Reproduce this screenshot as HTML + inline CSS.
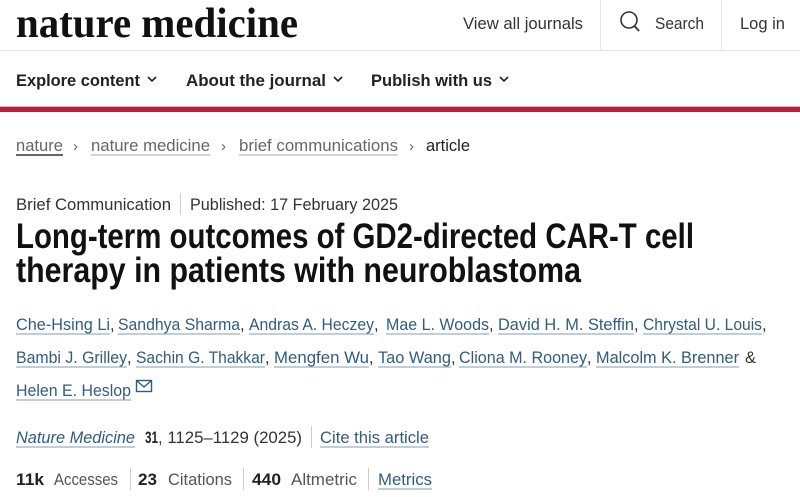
<!DOCTYPE html>
<html><head><meta charset="utf-8"><style>
html,body{margin:0;padding:0;background:#fff;width:800px;height:497px;overflow:hidden}
svg{display:block;font-family:"Liberation Sans",sans-serif}
.l{fill:#2f5d80}
.u{stroke:#7f9cb3;stroke-width:1}
.g{fill:#666}
</style></head><body>
<svg width="800" height="497" viewBox="0 0 800 497" xmlns="http://www.w3.org/2000/svg">
<rect width="800" height="497" fill="#fff"/>
<!-- header -->
<text x="16" y="37" style="font-family:'Liberation Serif',serif;font-weight:bold;font-size:42px" textLength="282" lengthAdjust="spacingAndGlyphs" fill="#111">nature medicine</text>
<line x1="0" y1="50.5" x2="800" y2="50.5" stroke="#e4e4e4"/>
<line x1="600.5" y1="0" x2="600.5" y2="50" stroke="#e4e4e4"/>
<line x1="721.5" y1="0" x2="721.5" y2="50" stroke="#e4e4e4"/>
<text x="463" y="29" font-size="17" textLength="120" lengthAdjust="spacingAndGlyphs" fill="#333">View all journals</text>
<circle cx="629" cy="20" r="8" fill="none" stroke="#333" stroke-width="1.6"/>
<line x1="634.5" y1="26" x2="639" y2="31" stroke="#333" stroke-width="1.8"/>
<text x="655" y="29" font-size="17" textLength="49" lengthAdjust="spacingAndGlyphs" fill="#333">Search</text>
<text x="740" y="29" font-size="17" textLength="45" lengthAdjust="spacingAndGlyphs" fill="#333">Log in</text>
<!-- nav -->
<text x="16" y="86" font-size="17" font-weight="bold" textLength="124" lengthAdjust="spacingAndGlyphs" fill="#222">Explore content</text>
<polyline points="148,77 152,81 156,77" fill="none" stroke="#222" stroke-width="1.6"/>
<text x="186" y="86" font-size="17" font-weight="bold" textLength="140" lengthAdjust="spacingAndGlyphs" fill="#222">About the journal</text>
<polyline points="334,77 338,81 342,77" fill="none" stroke="#222" stroke-width="1.6"/>
<text x="371" y="86" font-size="17" font-weight="bold" textLength="121" lengthAdjust="spacingAndGlyphs" fill="#222">Publish with us</text>
<polyline points="500,77 504,81 508,77" fill="none" stroke="#222" stroke-width="1.6"/>
<rect x="0" y="107" width="800" height="5" fill="#b8213c"/>
<rect x="0" y="106" width="800" height="1" fill="#e7b0ba"/>
<!-- breadcrumb -->
<text x="16" y="151" font-size="17" textLength="47" lengthAdjust="spacingAndGlyphs" class="g">nature</text>
<rect x="16" y="154" width="47" height="2" fill="#666"/>
<text x="73" y="151" font-size="15" class="g">›</text>
<text x="91" y="151" font-size="17" textLength="119" lengthAdjust="spacingAndGlyphs" class="g">nature medicine</text>
<line x1="91" y1="155" x2="210" y2="155" stroke="#aaa"/>
<text x="221" y="151" font-size="15" class="g">›</text>
<text x="239" y="151" font-size="17" textLength="159" lengthAdjust="spacingAndGlyphs" class="g">brief communications</text>
<line x1="239" y1="155" x2="398" y2="155" stroke="#aaa"/>
<text x="409" y="151" font-size="15" class="g">›</text>
<text x="426" y="151" font-size="17" textLength="44" lengthAdjust="spacingAndGlyphs" fill="#222">article</text>
<!-- meta -->
<text x="16" y="210" font-size="16.5" textLength="155" lengthAdjust="spacingAndGlyphs" fill="#333">Brief Communication</text>
<line x1="180.5" y1="193" x2="180.5" y2="215" stroke="#ccc"/>
<text x="190" y="210" font-size="16.5" textLength="208" lengthAdjust="spacingAndGlyphs" fill="#333">Published: 17 February 2025</text>
<!-- title -->
<text x="16" y="248" font-size="35" font-weight="bold" textLength="678" lengthAdjust="spacingAndGlyphs" fill="#111">Long-term outcomes of GD2-directed CAR-T cell</text>
<text x="16" y="282" font-size="35" font-weight="bold" textLength="565" lengthAdjust="spacingAndGlyphs" fill="#111">therapy in patients with neuroblastoma</text>
<!-- authors -->
<g font-size="16.5">
<text x="16" y="330" textLength="94" lengthAdjust="spacingAndGlyphs" class="l">Che-Hsing Li</text><text x="110" y="330" fill="#333">,</text>
<text x="118" y="330" textLength="122" lengthAdjust="spacingAndGlyphs" class="l">Sandhya Sharma</text><text x="240" y="330" fill="#333">,</text>
<text x="249" y="330" textLength="125" lengthAdjust="spacingAndGlyphs" class="l">Andras A. Heczey</text><text x="374" y="330" fill="#333">,</text>
<text x="386" y="330" textLength="103" lengthAdjust="spacingAndGlyphs" class="l">Mae L. Woods</text><text x="489" y="330" fill="#333">,</text>
<text x="498" y="330" textLength="136" lengthAdjust="spacingAndGlyphs" class="l">David H. M. Steffin</text><text x="634" y="330" fill="#333">,</text>
<text x="643" y="330" textLength="119" lengthAdjust="spacingAndGlyphs" class="l">Chrystal U. Louis</text><text x="762" y="330" fill="#333">,</text>
<g class="u">
<line x1="16" y1="334" x2="110" y2="334"/><line x1="118" y1="334" x2="240" y2="334"/><line x1="249" y1="334" x2="374" y2="334"/><line x1="386" y1="334" x2="489" y2="334"/><line x1="498" y1="334" x2="634" y2="334"/><line x1="643" y1="334" x2="762" y2="334"/>
</g>
<text x="16" y="363" textLength="111" lengthAdjust="spacingAndGlyphs" class="l">Bambi J. Grilley</text><text x="127" y="363" fill="#333">,</text>
<text x="136" y="363" textLength="129" lengthAdjust="spacingAndGlyphs" class="l">Sachin G. Thakkar</text><text x="265" y="363" fill="#333">,</text>
<text x="274" y="363" textLength="95" lengthAdjust="spacingAndGlyphs" class="l">Mengfen Wu</text><text x="369" y="363" fill="#333">,</text>
<text x="378" y="363" textLength="73" lengthAdjust="spacingAndGlyphs" class="l">Tao Wang</text><text x="451" y="363" fill="#333">,</text>
<text x="459" y="363" textLength="128" lengthAdjust="spacingAndGlyphs" class="l">Cliona M. Rooney</text><text x="587" y="363" fill="#333">,</text>
<text x="596" y="363" textLength="143" lengthAdjust="spacingAndGlyphs" class="l">Malcolm K. Brenner</text>
<text x="745" y="363" fill="#333">&amp;</text>
<g class="u">
<line x1="16" y1="367" x2="127" y2="367"/><line x1="136" y1="367" x2="265" y2="367"/><line x1="274" y1="367" x2="369" y2="367"/><line x1="378" y1="367" x2="451" y2="367"/><line x1="459" y1="367" x2="587" y2="367"/><line x1="596" y1="367" x2="739" y2="367"/>
</g>
<text x="16" y="396" textLength="115" lengthAdjust="spacingAndGlyphs" class="l">Helen E. Heslop</text>
<line x1="16" y1="400" x2="131" y2="400" class="u"/>
<rect x="136.5" y="380.5" width="15" height="11" fill="none" stroke="#2f5d80" stroke-width="1.4"/>
<polyline points="137,381 144,387 151,381" fill="none" stroke="#2f5d80" stroke-width="1.4"/>
<!-- journal -->
<text x="16" y="443" font-style="italic" textLength="119" lengthAdjust="spacingAndGlyphs" class="l">Nature Medicine</text>
<line x1="16" y1="447" x2="135" y2="447" class="u"/>
<text x="145" y="443" font-weight="bold" textLength="13" lengthAdjust="spacingAndGlyphs" fill="#222">31</text>
<text x="158" y="443" textLength="144" lengthAdjust="spacingAndGlyphs" fill="#333">, 1125–1129 (2025)</text>
<line x1="311.5" y1="426" x2="311.5" y2="448" stroke="#ccc"/>
<text x="320" y="443" textLength="109" lengthAdjust="spacingAndGlyphs" class="l">Cite this article</text>
<line x1="320" y1="447" x2="429" y2="447" class="u"/>
<!-- metrics -->
<text x="16" y="485" font-weight="bold" textLength="28" lengthAdjust="spacingAndGlyphs" fill="#222">11k</text>
<text x="54" y="485" textLength="64" lengthAdjust="spacingAndGlyphs" fill="#555">Accesses</text>
<line x1="130.5" y1="468" x2="130.5" y2="490" stroke="#ccc"/>
<text x="138" y="485" font-weight="bold" textLength="19" lengthAdjust="spacingAndGlyphs" fill="#222">23</text>
<text x="168" y="485" textLength="64" lengthAdjust="spacingAndGlyphs" fill="#555">Citations</text>
<line x1="243.5" y1="468" x2="243.5" y2="490" stroke="#ccc"/>
<text x="252" y="485" font-weight="bold" textLength="29" lengthAdjust="spacingAndGlyphs" fill="#222">440</text>
<text x="291" y="485" textLength="66" lengthAdjust="spacingAndGlyphs" fill="#555">Altmetric</text>
<line x1="368.5" y1="468" x2="368.5" y2="490" stroke="#ccc"/>
<text x="378" y="485" textLength="54" lengthAdjust="spacingAndGlyphs" class="l">Metrics</text>
<line x1="378" y1="489" x2="432" y2="489" class="u"/>
</g>
</svg>
</body></html>
